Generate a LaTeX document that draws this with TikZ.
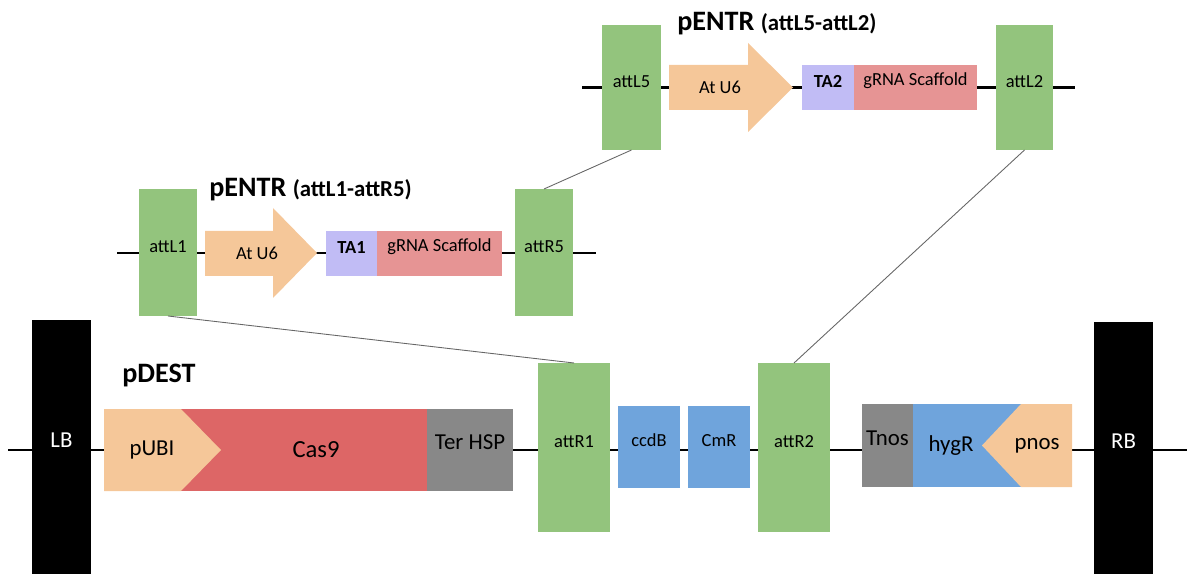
\documentclass[tikz,border=0pt]{standalone}
\usepackage{fontspec}
\setmainfont{Carlito}
\usetikzlibrary{fit}
\definecolor{attgreen}{RGB}{147,196,125}
\definecolor{peach}{RGB}{245,199,153}
\definecolor{lavender}{RGB}{193,188,245}
\definecolor{scaffold}{RGB}{230,148,148}
\definecolor{casred}{RGB}{221,102,102}
\definecolor{tergray}{RGB}{136,136,136}
\definecolor{markblue}{RGB}{111,164,220}

\begin{document}
\begin{tikzpicture}[x=0.02cm,y=-0.02cm,
  box/.style={inner sep=0pt, outer sep=0pt, font=\fontsize{10.5}{12}\selectfont},
  bigbox/.style={box, font=\fontsize{13}{15}\selectfont},
  att/.style={box, fill=attgreen},
  border/.style={bigbox, fill=black, text=white},
  backbone/.style={line width=1.2pt},
  conn/.style={draw=black!60, line width=0.5pt},
  title/.style={anchor=base west, inner sep=0pt, font=\bfseries\fontsize{16}{19}\selectfont}]
\useasboundingbox (0,0) rectangle (1187,574);

% backbones
\coordinate (topL) at (582,87.5);
\coordinate (topR) at (1075,87.5);
\coordinate (midL) at (117,253);
\coordinate (midR) at (596,253);
\coordinate (botL) at (8,450);
\coordinate (botR) at (1187,450);
\draw[backbone] (topL) -- (topR);
\draw[backbone] (midL) -- (midR);
\draw[backbone] (botL) -- (botR);

% pENTR (attL5-attL2)
\node[title] (entrB) at (677,31) {pENTR {\fontsize{13}{15}\selectfont(attL5-attL2)}};
\node[att, fit={(602,25) (661,150)}] (attL5) {attL5};
\fill[peach] (669,65) -- (748,65) -- (748,43) -- (793,87.5) -- (748,132) -- (748,110) -- (669,110) -- cycle;
\node[box] (u6B) at (720,87.5) {At U6};
\node[box, fill=lavender, fit={(802,65) (854,110)}] (TA2) {\bfseries TA2};
\node[box, fill=scaffold, fit={(854,65) (977,110)}] (gRNA2) {gRNA Scaffold};
\node[att, fit={(996,25) (1053,150)}] (attL2) {attL2};

% pENTR (attL1-attR5)
\node[title] (entrA) at (209,197) {pENTR {\fontsize{13}{15}\selectfont(attL1-attR5)}};
\node[att, fit={(139,189) (197,316)}] (attL1) {attL1};
\fill[peach] (205,231) -- (273,231) -- (273,208) -- (317,253) -- (273,298) -- (273,276) -- (205,276) -- cycle;
\node[box] (u6A) at (257,253) {At U6};
\node[box, fill=lavender, fit={(326,231) (377,276)}] (TA1) {\bfseries TA1};
\node[box, fill=scaffold, fit={(377,231) (502,276)}] (gRNA1) {gRNA Scaffold};
\node[att, fit={(515,189) (573,316)}] (attR5) {attR5};

% pDEST
\node[title] (dest) at (122,382) {pDEST};
\node[border, fit={(32,320) (91,574)}] (LB) {LB};
\fill[casred] (181,409) rectangle (427,491);
\fill[peach] (104,409) -- (181,409) -- (221,450) -- (181,491) -- (104,491) -- cycle;
\node[bigbox] (pUBI) at (152,450) {pUBI};
\node[bigbox, font=\fontsize{14}{16}\selectfont] (cas9) at (316,450) {Cas9};
\node[bigbox, fill=tergray, fit={(427,409) (513,491)}] (TerHSP) {Ter HSP};
\node[att, fit={(538,363) (610,532)}] (attR1) {attR1};
\node[box, fill=markblue, fit={(618,406) (680,488)}] (ccdB) {ccdB};
\node[box, fill=markblue, fit={(688,406) (750,488)}] (CmR) {CmR};
\node[att, fit={(758,363) (830,532)}] (attR2) {attR2};
\node[bigbox, fill=tergray, fit={(862,404) (913,487)}] (Tnos) {Tnos};
\fill[markblue] (913,404) rectangle (1021,487);
\fill[peach] (1072,404) -- (1021,404) -- (982,445.5) -- (1021,487) -- (1072,487) -- cycle;
\node[bigbox] (hygR) at (951,445.5) {hygR};
\node[bigbox] (pnos) at (1037,445.5) {pnos};
\node[border, fit={(1094,322) (1153,574)}] (RB) {RB};

% recombination
\draw[conn] (attL1.south) -- (attR1.north);
\draw[conn] (attR5.north) -- (attL5.south);
\draw[conn] (attL2.south) -- (attR2.north);
\end{tikzpicture}
\end{document}
